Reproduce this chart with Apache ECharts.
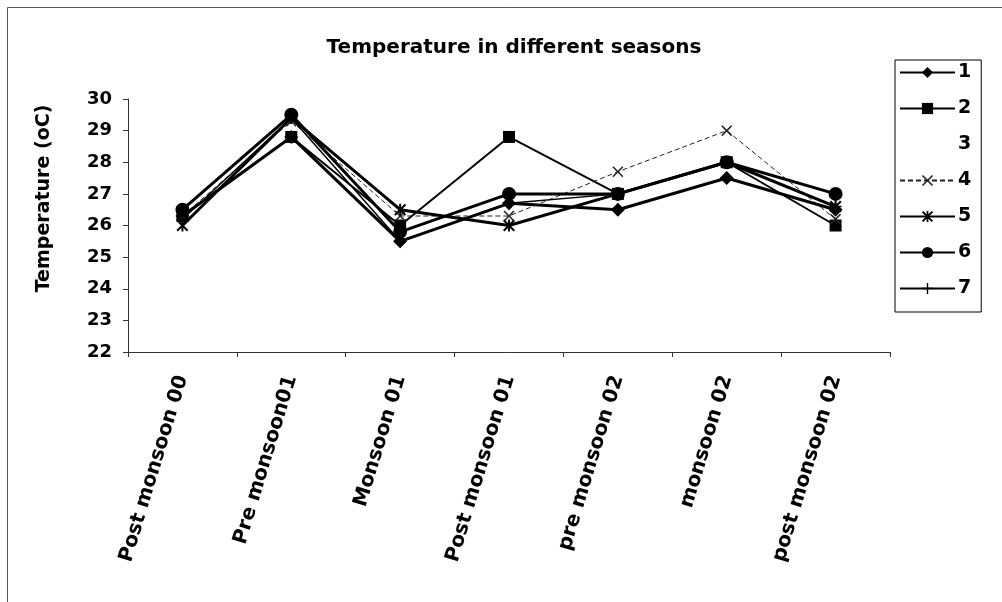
<!DOCTYPE html>
<html>
<head>
<meta charset="utf-8">
<script src="https://cdn.jsdelivr.net/npm/echarts@6/dist/echarts.min.js"></script>
<style>
html,body{margin:0;padding:0;background:#fff;}
#c{width:1002px;height:602px;}
</style>
</head>
<body>
<div id="c"></div>
<script>
const categories = ['Post monsoon 00','Pre monsoon01','Monsoon 01','Post monsoon 01','pre monsoon 02','monsoon 02','post monsoon 02'];
const seriesNames = ['1','2','3','4','5','6','7'];
const s1 = [26.3, 28.8, 25.5, 26.7, 26.5, 27.5, 26.5];
const s2 = [26.3, 28.8, 26.0, 28.8, 27.0, 28.0, 26.0];
const s3 = [null, null, null, null, null, null, null];
const s4 = [26.3, 29.3, 26.3, 26.3, 27.7, 29.0, 26.2];
const s5 = [26.0, 29.4, 26.5, 26.0, 27.0, 28.0, 26.6];
const s6 = [26.5, 29.5, 25.8, 27.0, 27.0, 28.0, 27.0];
const s7 = [26.2, 29.4, 25.5, 26.7, 27.0, 28.0, 26.6];
const yTicks = [22, 23, 24, 25, 26, 27, 28, 29, 30];

const FONT = 'DejaVu Sans';
const X_PATH = 'path://M0,1L1,0L5,4L9,0L10,1L6,5L10,9L9,10L5,6L1,10L0,9L4,5Z';
const STAR_PATH = 'path://M4.2,0H5.8V10H4.2Z M0,1.2L1.2,0L5,3.8L8.8,0L10,1.2L6.2,5L10,8.8L8.8,10L5,6.2L1.2,10L0,8.8L3.8,5Z';
const PLUS_PATH = 'path://M4.4,0H5.6V4.4H10V5.6H5.6V10H4.4V5.6H0V4.4H4.4Z';

function mk(name, data, symbol, size, width, extra) {
  return Object.assign({
    name: name,
    type: 'line',
    data: data,
    symbol: symbol,
    symbolSize: size,
    showSymbol: true,
    animation: false,
    lineStyle: {color: '#000', width: width},
    itemStyle: {color: '#000', borderColor: '#000', borderWidth: 0}
  }, extra || {});
}

const chart = echarts.init(document.getElementById('c'), null, {renderer: 'canvas'});
chart.setOption({
  animation: false,
  backgroundColor: '#fff',
  graphic: [{
    type: 'rect',
    shape: {x: 7.5, y: 7.5, width: 1100, height: 800},
    style: {fill: 'none', stroke: '#555', lineWidth: 1},
    silent: true,
    z: -1
  }],
  title: {
    text: 'Temperature in different seasons',
    left: 509,
    textAlign: 'center',
    top: 33,
    textStyle: {fontFamily: FONT, fontWeight: 'bold', fontSize: 20, color: '#000'}
  },
  legend: {
    orient: 'vertical',
    left: 895,
    top: 60,
    width: 93,
    padding: [3, 10, 14, 4],
    itemWidth: 55,
    itemHeight: 14,
    itemGap: 17,
    borderColor: '#000',
    borderWidth: 1,
    textStyle: {fontFamily: FONT, fontWeight: 'bold', fontSize: 19, color: '#000', padding: [0,0,0,-2]},
    data: [
      {name: '1'}, {name: '2'},
      {name: '3', itemStyle: {opacity: 0}, lineStyle: {opacity: 0}},
      {name: '4'}, {name: '5'}, {name: '6'}, {name: '7'}
    ]
  },
  grid: {left: 128, right: 112, top: 99, bottom: 250, containLabel: false},
  xAxis: {
    type: 'category',
    data: categories,
    boundaryGap: true,
    axisLine: {lineStyle: {color: '#333', width: 1}},
    axisTick: {show: true, length: 5, inside: false, lineStyle: {color: '#333'}},
    axisLabel: {
      rotate: 73,
      margin: 24,
      interval: 0,
      fontFamily: FONT, fontWeight: 'bold', fontSize: 20, color: '#000'
    },
    splitLine: {show: false}
  },
  yAxis: {
    type: 'value',
    min: yTicks[0],
    max: yTicks[yTicks.length - 1],
    interval: 1,
    axisLine: {show: true, lineStyle: {color: '#333', width: 1}},
    axisTick: {show: true, length: 5, inside: false, lineStyle: {color: '#333'}},
    axisLabel: {margin: 16, fontFamily: FONT, fontWeight: 'bold', fontSize: 18, color: '#000'},
    splitLine: {show: false},
    name: 'Temperature (oC)',
    nameLocation: 'middle',
    nameGap: 74,
    nameRotate: 90,
    nameTextStyle: {fontFamily: FONT, fontWeight: 'bold', fontSize: 19, color: '#000', padding: [0, 0, 0, 54]}
  },
  series: [
    mk(seriesNames[0], s1, 'diamond', 14, 3),
    mk(seriesNames[1], s2, 'rect', 12, 2),
    mk(seriesNames[2], s3, 'none', 0, 0, {lineStyle: {opacity: 0, width: 0}, itemStyle: {opacity: 0}}),
    mk(seriesNames[3], s4, X_PATH, 11, 1, {lineStyle: {color: '#222', width: 1, type: [5, 3]}, itemStyle: {color: '#222'}}),
    mk(seriesNames[4], s5, STAR_PATH, 12, 3),
    mk(seriesNames[5], s6, 'circle', 14, 3),
    mk(seriesNames[6], s7, PLUS_PATH, 12, 1.5)
  ]
});
</script>
</body>
</html>
